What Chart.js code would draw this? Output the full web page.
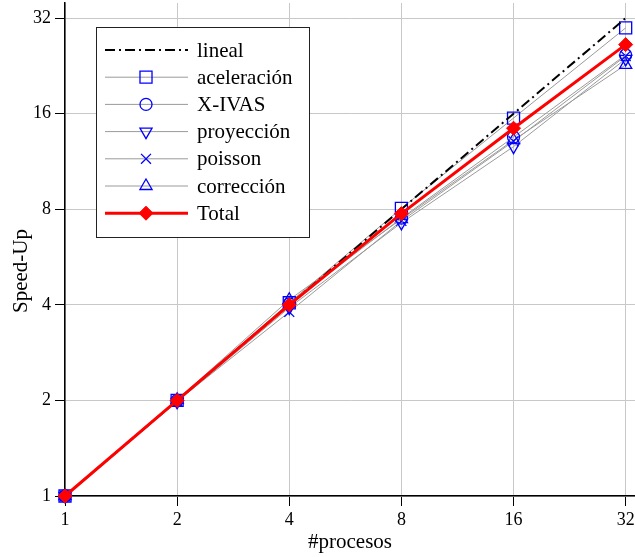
<!DOCTYPE html>
<html>
<head>
<meta charset="utf-8">
<script src="https://cdn.jsdelivr.net/npm/chart.js@4/dist/chart.umd.min.js"></script>
<style>
html,body{margin:0;padding:0;background:#fff;}
canvas{display:block;}
</style>
</head>
<body>
<canvas id="c" width="635" height="557"></canvas>
<script>
const procesos = [1, 2, 4, 8, 16, 32];
const tickValues = [1, 2, 4, 8, 16, 32];
const lineal = [1, 2, 4, 8, 16, 32];
const aceleracion = [1, 2.0, 4.06, 8.05, 15.5, 29.8];
const xivas = [1, 2.0, 4.03, 7.5, 13.5, 24.5];
const proyeccion = [1, 1.98, 3.92, 7.25, 12.6, 23.8];
const poisson = [1, 1.99, 3.8, 7.35, 13.1, 24.3];
const correccion = [1, 2.01, 4.15, 7.45, 13.2, 22.8];
const total = [1, 2.0, 4.0, 7.75, 14.4, 26.4];
const xTitle = '#procesos';
const yTitle = 'Speed-Up';

const FONT = '"Liberation Serif", "DejaVu Serif", serif';
const pts = arr => procesos.map((p, i) => ({x: p, y: arr[i]}));
const BLUE = '#0000ff';
const GREY = '#9a9a9a';

function series(label, arr, style, rot, radius) {
  return {
    label, data: pts(arr), borderColor: GREY, borderWidth: 1,
    pointStyle: style, pointRotation: rot || 0, pointRadius: radius,
    pointBorderColor: BLUE, pointBackgroundColor: 'rgba(0,0,0,0)',
    pointBorderWidth: 1.3, order: 2, clip: false
  };
}

const datasets = [
  {label: 'lineal', data: pts(lineal), borderColor: '#000', borderWidth: 2,
   borderDash: [10, 4, 2, 4], pointRadius: 0, order: 1, clip: false},
  series('aceleración', aceleracion, 'rect', 0, 8.5),
  series('X-IVAS', xivas, 'circle', 0, 6),
  series('proyección', proyeccion, 'triangle', 180, 7),
  series('poisson', poisson, 'crossRot', 0, 7),
  series('corrección', correccion, 'triangle', 0, 7),
  {label: 'Total', data: pts(total), borderColor: '#ff0000', borderWidth: 3,
   pointStyle: 'rectRot', pointRadius: 7, pointBorderColor: '#ff0000',
   pointBackgroundColor: '#ff0000', pointBorderWidth: 1, order: 0, clip: false}
];

function drawMarker(ctx, ds, x, y) {
  if (!ds.pointRadius) return;
  ctx.save();
  ctx.strokeStyle = ds.pointBorderColor;
  ctx.fillStyle = ds.pointBackgroundColor;
  ctx.lineWidth = ds.pointBorderWidth;
  ctx.setLineDash([]);
  Chart.helpers.drawPoint(ctx, {pointStyle: ds.pointStyle, rotation: ds.pointRotation || 0,
    radius: ds.pointRadius, borderWidth: ds.pointBorderWidth}, x, y);
  ctx.restore();
}

const overlay = {
  id: 'overlay',
  afterDraw(chart) {
    const ctx = chart.ctx;
    const bx = 96, by = 27, bw = 213, bh = 210;
    ctx.save();
    ctx.fillStyle = '#fff';
    ctx.fillRect(bx, by, bw, bh);
    ctx.strokeStyle = '#222';
    ctx.lineWidth = 1;
    ctx.strokeRect(bx + 0.5, by + 0.5, bw, bh);
    chart.data.datasets.forEach((ds, i) => {
      const y = 50 + i * 27.2;
      ctx.save();
      ctx.strokeStyle = ds.borderColor;
      ctx.lineWidth = ds.borderWidth;
      ctx.setLineDash(ds.borderDash || []);
      ctx.beginPath();
      ctx.moveTo(105, y);
      ctx.lineTo(188, y);
      ctx.stroke();
      ctx.restore();
      drawMarker(ctx, ds, 146, y);
      ctx.fillStyle = '#000';
      ctx.font = '21px ' + FONT;
      ctx.textBaseline = 'middle';
      ctx.textAlign = 'left';
      ctx.fillText(ds.label, 197, y + 1);
    });
    ctx.fillStyle = '#000';
    ctx.font = '21px ' + FONT;
    ctx.textAlign = 'center';
    ctx.textBaseline = 'middle';
    ctx.save();
    ctx.translate(21, 271);
    ctx.rotate(-Math.PI / 2);
    ctx.fillText(yTitle, 0, 0);
    ctx.restore();
    const area = chart.chartArea;
    ctx.fillText(xTitle, (area.left + area.right) / 2, 542);
    ctx.restore();
  }
};

const tickCfg = {
  font: {family: FONT, size: 18}, color: '#000', autoSkip: false, maxRotation: 0,
  callback: v => String(v)
};

new Chart(document.getElementById('c'), {
  type: 'line',
  data: {datasets},
  options: {
    responsive: false, animation: false, devicePixelRatio: 1,
    layout: {autoPadding: false, padding: {top: 3, right: 0, left: 0, bottom: 0}},
    plugins: {legend: {display: false}, tooltip: {enabled: false}},
    elements: {line: {tension: 0}},
    scales: {
      x: {
        type: 'logarithmic', min: 1, max: 33.9,
        afterBuildTicks: s => { s.ticks = tickValues.map(v => ({value: v})); },
        afterFit: s => { s.height = 61; s.paddingLeft = 0; s.paddingRight = 0; },
        ticks: Object.assign({padding: 3}, tickCfg),
        grid: {color: '#c8c8c8', tickColor: '#000', tickLength: 10, lineWidth: 1},
        border: {color: '#000', width: 1.5}
      },
      y: {
        type: 'logarithmic', min: 1, max: 35.7,
        afterBuildTicks: s => { s.ticks = tickValues.map(v => ({value: v})); },
        afterFit: s => { s.width = 65; s.paddingTop = 0; s.paddingBottom = 0; },
        ticks: Object.assign({padding: 4}, tickCfg),
        grid: {color: '#c8c8c8', tickColor: '#000', tickLength: 10, lineWidth: 1},
        border: {color: '#000', width: 1.5}
      }
    }
  },
  plugins: [overlay]
});
</script>
</body>
</html>
